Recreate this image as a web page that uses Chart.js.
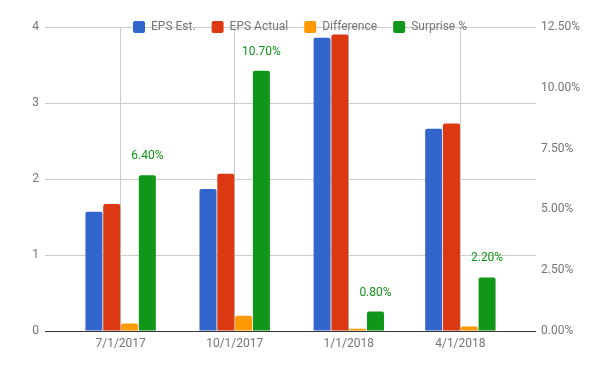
<!DOCTYPE html>
<html>
<head>
<meta charset="utf-8">
<script src="https://cdn.jsdelivr.net/npm/chart.js"></script>
<style>
  body { margin: 0; background: #fff; }
  #wrap { width: 600px; height: 371px; }
</style>
</head>
<body>
<div id="wrap"><canvas id="epsChart" width="600" height="371"></canvas></div>
<script>
var quarters = ['7/1/2017', '10/1/2017', '1/1/2018', '4/1/2018'];
var epsEst = [1.57, 1.87, 3.86, 2.66];
var epsActual = [1.67, 2.07, 3.90, 2.73];
var difference = [0.10, 0.20, 0.03, 0.06];
var surprise = [6.40, 10.70, 0.80, 2.20];

// days since the first quarter, so the x axis spaces the dates like a time axis
var first = Date.parse(quarters[0]);
var days = quarters.map(function (d) { return Math.round((Date.parse(d) - first) / 86400000); });

function points(values) {
    return values.map(function (v, i) { return { x: days[i], y: v }; });
}

var grey = '#757575';
Chart.defaults.font.family = 'Roboto';
Chart.defaults.font.size = 12;

// legend sits on the top gridline like in the original
var legendOnGrid = {
    id: 'legendOnGrid',
    afterLayout: function (chart) {
        var lg = chart.legend;
        var pad = lg.options.labels.padding;
        var shift = chart.chartArea.top - (lg.top + pad + 6);
        lg.top += shift;
        lg.bottom += shift;
    }
};

var surpriseLabels = {
    id: 'surpriseLabels',
    afterDatasetsDraw: function (chart) {
        var ctx = chart.ctx;
        var meta = chart.getDatasetMeta(3);
        ctx.save();
        ctx.font = '12px Roboto';
        ctx.fillStyle = '#109618';
        ctx.textAlign = 'center';
        ctx.textBaseline = 'middle';
        meta.data.forEach(function (bar, i) {
            ctx.fillText(surprise[i].toFixed(2) + '%', bar.x, bar.y - 19);
        });
        ctx.restore();
    }
};

var barOpts = {
    categoryPercentage: 0.638,
    barPercentage: 0.955,
    borderRadius: { topLeft: 2, topRight: 2 },
    borderWidth: 0
};

var epsChart = new Chart(document.getElementById('epsChart').getContext('2d'), {
    type: 'bar',
    data: {
        datasets: [
            Object.assign({ label: 'EPS Est.', data: points(epsEst), backgroundColor: '#3366cc', yAxisID: 'y' }, barOpts),
            Object.assign({ label: 'EPS Actual', data: points(epsActual), backgroundColor: '#dc3912', yAxisID: 'y' }, barOpts),
            Object.assign({ label: 'Difference', data: points(difference), backgroundColor: '#ff9900', yAxisID: 'y' }, barOpts),
            Object.assign({ label: 'Surprise %', data: points(surprise), backgroundColor: '#109618', yAxisID: 'y1' }, barOpts)
        ]
    },
    options: {
        responsive: false,
        animation: false,
        layout: { padding: { top: -11, left: 0, right: 0, bottom: 0 } },
        plugins: {
            legend: {
                position: 'top',
                labels: {
                    boxWidth: 12,
                    boxHeight: 12,
                    padding: 16,
                    color: grey,
                    useBorderRadius: true,
                    borderRadius: 2
                }
            },
            tooltip: { enabled: false }
        },
        scales: {
            x: {
                type: 'linear',
                offset: false,
                min: -61,
                max: 335,
                afterBuildTicks: function (axis) {
                    axis.ticks = days.map(function (d) { return { value: d }; });
                },
                afterFit: function (axis) { axis.height = 40; },
                ticks: {
                    color: grey,
                    padding: 6,
                    autoSkip: false,
                    maxRotation: 0,
                    callback: function (v, i) { return quarters[i]; }
                },
                grid: { color: '#cccccc', drawTicks: false, offset: false },
                border: { display: false }
            },
            y: {
                position: 'left',
                min: 0,
                max: 4,
                afterFit: function (axis) { axis.width = 45; },
                ticks: { stepSize: 1, color: grey, padding: 6 },
                grid: {
                    drawTicks: false,
                    color: function (c) { return c.tick && c.tick.value === 0 ? '#333333' : '#cccccc'; }
                },
                border: { display: false }
            },
            y1: {
                position: 'right',
                min: 0,
                max: 12.5,
                afterFit: function (axis) { axis.width = 64; },
                ticks: {
                    stepSize: 2.5,
                    color: grey,
                    padding: 5,
                    callback: function (v) { return v.toFixed(2) + '%'; }
                },
                grid: { drawOnChartArea: false, drawTicks: false },
                border: { display: false }
            }
        }
    },
    plugins: [legendOnGrid, surpriseLabels]
});
</script>
</body>
</html>
